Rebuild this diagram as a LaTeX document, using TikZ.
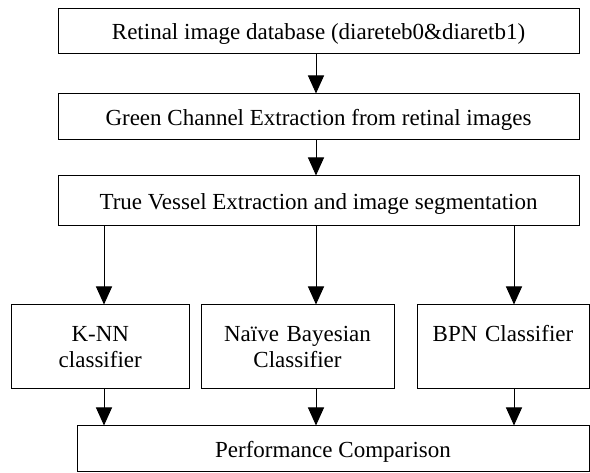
\documentclass[tikz,border=0pt]{standalone}
\usepackage{fontspec}
\setmainfont{Liberation Serif}
\usetikzlibrary{arrows.meta}

\begin{document}
\begin{tikzpicture}[x=1pt, y=-1pt, line width=1pt,
every node/.style={font=\fontsize{23}{26.5}\selectfont},
rectWide/.style={rectangle, draw=black, minimum width=521pt, minimum height=46pt, text height=17pt, text depth=0pt, align=center},
rectClass/.style={rectangle, draw=black, minimum height=84pt, align=center},
rectResult/.style={rectangle, draw=black, minimum width=512pt, minimum height=46pt, text height=17pt, text depth=0pt, align=center},
arr/.style={-{Triangle[width=16pt, length=18pt]}}
]

\useasboundingbox (0, 0) rectangle (590, 473);

\node[rectWide, minimum height=45pt] (database) at (318.5, 31.5) {Retinal image database (diareteb0\&diaretb1)};
\node[rectWide] (green) at (318.5, 117) {Green Channel Extraction from retinal images};
\node[rectWide, minimum height=50pt] (vessel) at (318.5, 201) {True Vessel Extraction and image segmentation};

\node[rectClass, minimum width=177.5pt, text width=170pt] (knn) at (100.25, 347) {K-NN\\classifier};
\node[rectClass, minimum width=193pt, text width=185pt] (bayes) at (297.5, 347) {Naïve Bayesian\\Classifier};
\node[rectClass, minimum width=172pt, text width=165pt] (bpn) at (503, 347) {BPN Classifier\\~};

\node[rectResult] (compare) at (333, 449) {Performance Comparison};

% arrow columns
\coordinate (colKnn) at (104, 0);
\coordinate (colBayes) at (316, 0);
\coordinate (colBpn) at (514, 0);

\path[arr]  (database.south -| colBayes)    edge    (green.north -| colBayes)
            (green.south -| colBayes)       edge    (vessel.north -| colBayes)
            (vessel.south -| colKnn)        edge    (knn.north -| colKnn)
            (vessel.south -| colBayes)      edge    (bayes.north -| colBayes)
            (vessel.south -| colBpn)        edge    (bpn.north -| colBpn)
            (knn.south -| colKnn)           edge    (compare.north -| colKnn)
            (bayes.south -| colBayes)       edge    (compare.north -| colBayes)
            (bpn.south -| colBpn)           edge    (compare.north -| colBpn);

\end{tikzpicture}
\end{document}
